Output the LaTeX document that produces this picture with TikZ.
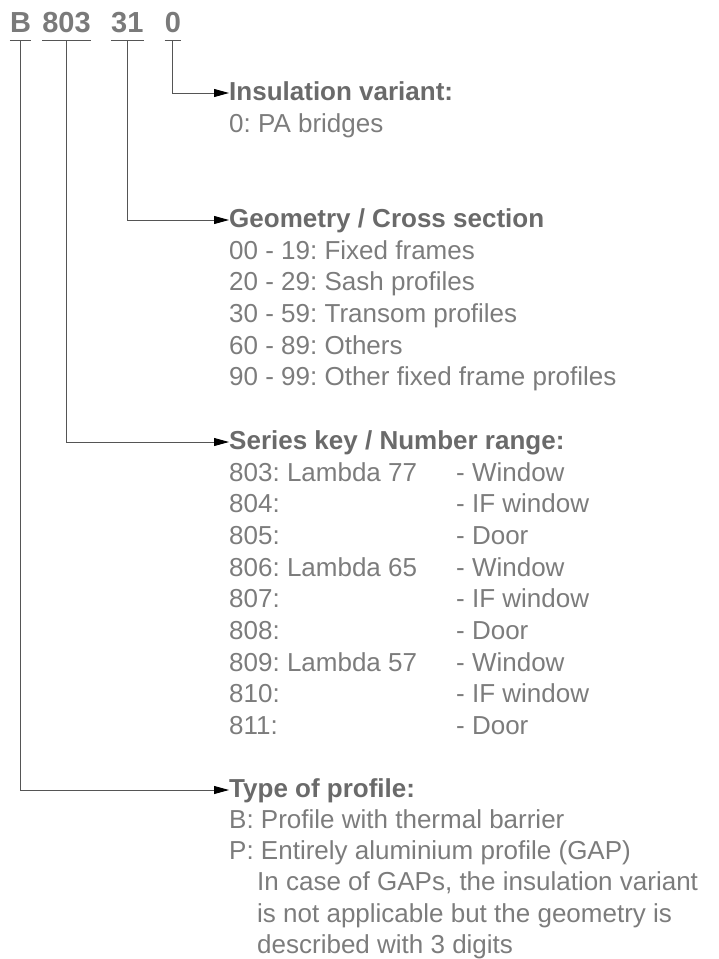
\documentclass[tikz,border=0pt]{standalone}
\usepackage{fontspec}
\setmainfont{Liberation Sans}
\usetikzlibrary{arrows.meta,positioning}
\definecolor{titlegray}{HTML}{7A7A7A}
\definecolor{headgray}{HTML}{6A6A6A}
\definecolor{bodygray}{HTML}{7C7C7C}
\definecolor{linegray}{HTML}{555555}
\frenchspacing
\tikzset{
  digit/.style={font=\fontsize{29}{32}\selectfont\bfseries, text=titlegray, inner xsep=0pt, inner ysep=0pt, text height=20pt, text depth=8pt},
  head/.style={font=\fontsize{26}{31.7}\selectfont\bfseries, text=headgray, inner sep=0pt, text height=19pt, text depth=5pt, anchor=west},
  body/.style={font=\fontsize{26}{31.7}\selectfont\frenchspacing, text=bodygray, inner sep=0pt, align=left},
  lead/.style={draw=linegray, line width=0.9pt, -{Triangle[length=15pt,width=8pt,color=black]}},
  uline/.style={draw=linegray, line width=0.9pt},
}
\begin{document}
\begin{tikzpicture}[x=1pt,y=-1pt]
  \useasboundingbox (0,0) rectangle (718,959);
  % code digits
  \node[digit, anchor=base] (tb) at (20.5,32) {B};
  \node[digit, right=11pt of tb] (tser) {803};
  \node[digit, right=20pt of tser] (tgeo) {31};
  \node[digit, right=21pt of tgeo] (tins) {0};
  \draw[uline] (tb.south west) -- (tb.south east);
  \draw[uline] (tser.south west) -- (tser.south east);
  \draw[uline] (tgeo.south west) -- (tgeo.south east);
  \draw[uline] (tins.south west) -- (tins.south east);

  % headings
  \node[head] (ins) at (229,93) {Insulation variant:};
  \node[head] (geo) at (229,220) {Geometry / Cross section};
  \node[head] (ser) at (229,442) {Series key / Number range:};
  \node[head] (typ) at (229,790) {Type of profile:};

  % explanations
  \node[body, below=13pt of ins.base west, anchor=north west] (insb) {0: PA bridges};
  \node[body, below=13pt of geo.base west, anchor=north west] (geob)
    {00 - 19: Fixed frames\\20 - 29: Sash profiles\\30 - 59: Transom profiles\\60 - 89: Others\\90 - 99: Other fixed frame profiles};
  \node[body, below=13pt of ser.base west, anchor=north west] (serl)
    {803: Lambda 77\\804:\\805:\\806: Lambda 65\\807:\\808:\\809: Lambda 57\\810:\\811:};
  \node[body, anchor=north west] (serr) at ([xshift=227pt]serl.north west)
    {- Window\\- IF window\\- Door\\- Window\\- IF window\\- Door\\- Window\\- IF window\\- Door};
  \node[body, font=\fontsize{26}{31.2}\selectfont, below=12.5pt of typ.base west, anchor=north west] (typb)
    {B: Profile with thermal barrier\\P: Entirely aluminium profile (GAP)\\
     \hspace*{28pt}In case of GAPs, the insulation variant\\
     \hspace*{28pt}is not applicable but the geometry is\\
     \hspace*{28pt}described with 3 digits};

  % leaders
  \draw[lead] (tins.south) |- (ins.west);
  \draw[lead] (tgeo.south) |- (geo.west);
  \draw[lead] (tser.south) |- (ser.west);
  \draw[lead] (tb.south) |- (typ.west);
\end{tikzpicture}
\end{document}
